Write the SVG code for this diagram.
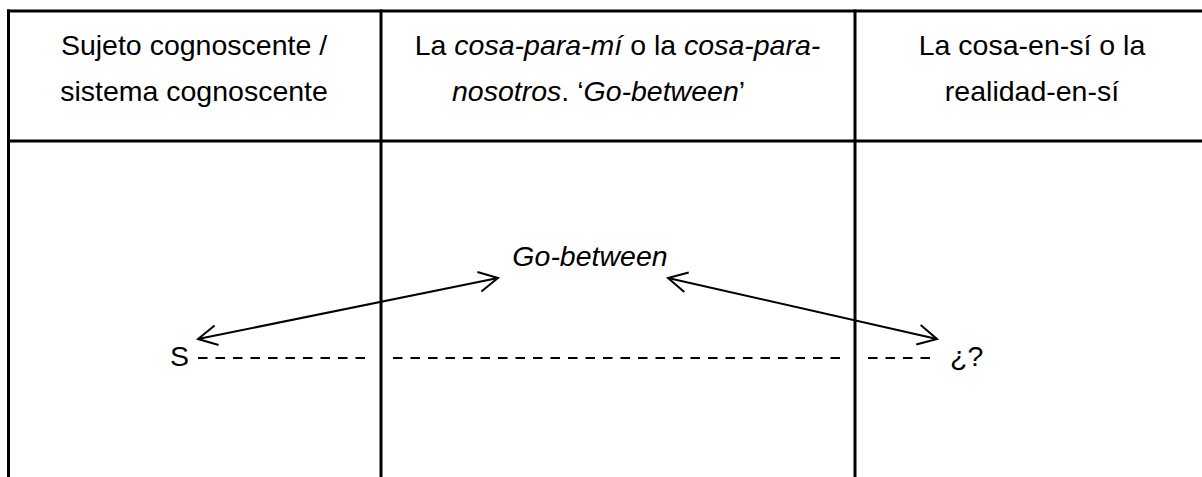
<svg xmlns="http://www.w3.org/2000/svg" width="1202" height="477" viewBox="0 0 1202 477">
<style>
.t{font-family:"Liberation Sans",Arial,sans-serif;font-size:28.5px;fill:#000}
.i{font-style:italic}
.b{stroke:#000;stroke-width:3;fill:none}
.d{stroke:#000;stroke-width:2.2;stroke-dasharray:9.5 8;fill:none}
.a{stroke:#000;stroke-width:2;fill:none}
</style>
<defs>
<marker id="ah" markerUnits="userSpaceOnUse" viewBox="-22 -12 24 24" refX="0" refY="0" markerWidth="24" markerHeight="24" orient="auto-start-reverse">
<path d="M-19,-10 L0,0 L-19,10" fill="none" stroke="#000" stroke-width="2"/>
</marker>
</defs>
<rect width="1202" height="477" fill="#fff"/>
<g id="table">
<line class="b" x1="7" y1="11" x2="1202" y2="11"/>
<line class="b" x1="7" y1="141" x2="1202" y2="141"/>
<line class="b" x1="8.5" y1="9.5" x2="8.5" y2="477"/>
<line class="b" x1="381" y1="9.5" x2="381" y2="477"/>
<line class="b" x1="855" y1="9.5" x2="855" y2="477"/>
</g>
<g id="header-sujeto">
<text class="t" x="194" y="55" text-anchor="middle">Sujeto cognoscente /</text>
<text class="t" x="194" y="101" text-anchor="middle">sistema cognoscente</text>
</g>
<g id="header-cosa-para-mi">
<text class="t" x="617.5" y="55" text-anchor="middle">La <tspan class="i">cosa-para-mí</tspan> o la <tspan class="i">cosa-para-</tspan></text>
<text class="t" x="452" y="101"><tspan class="i">nosotros</tspan>. ‘<tspan class="i">Go-between</tspan>’</text>
</g>
<g id="header-cosa-en-si">
<text class="t" x="1032" y="55" text-anchor="middle">La cosa-en-sí o la</text>
<text class="t" x="1032" y="101" text-anchor="middle">realidad-en-sí</text>
</g>
<g id="node-S">
<text class="t" x="170" y="366">S</text>
</g>
<g id="node-gobetween">
<text class="t i" x="590" y="266" text-anchor="middle">Go-between</text>
</g>
<g id="node-q">
<text class="t" x="950" y="366">¿?</text>
</g>
<g id="connectors">
<line class="d" x1="198" y1="358" x2="367" y2="358"/>
<line class="d" x1="393" y1="358" x2="842" y2="358"/>
<line class="d" x1="868" y1="358" x2="932" y2="358"/>
<line class="a" x1="198" y1="339" x2="498" y2="278" marker-start="url(#ah)" marker-end="url(#ah)"/>
<line class="a" x1="668" y1="278" x2="937" y2="339" marker-start="url(#ah)" marker-end="url(#ah)"/>
</g>
</svg>
